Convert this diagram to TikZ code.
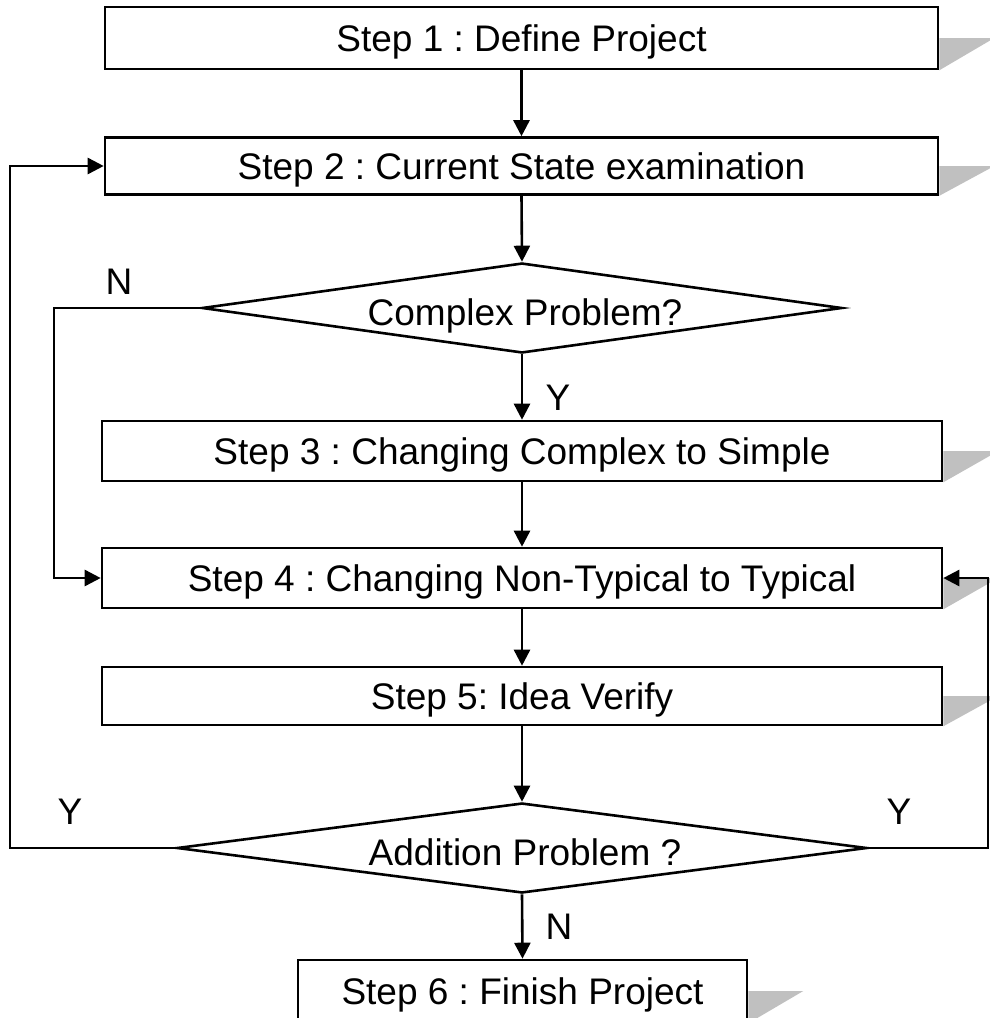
\documentclass[tikz,border=0pt]{standalone}
\usepackage{fontspec}
\setmainfont{Liberation Sans}
\usetikzlibrary{arrows.meta,shapes.geometric}
\definecolor{shadowgray}{HTML}{C0C0C0}
\frenchspacing
\tikzset{
  every node/.style={font=\fontsize{37}{44}\selectfont},
  stepbox/.style={draw, line width=2.6pt, fill=white, rectangle, inner sep=0pt, minimum width=840pt, minimum height=60pt, text depth=0pt},
  decision/.style={draw, line width=2.6pt, fill=white, diamond, inner sep=0pt, shape aspect=7},
  conn/.style={line width=2.6pt},
  arr/.style={conn, -{Triangle[length=16pt,width=16pt]}},
  lbl/.style={inner sep=0pt}
}
\begin{document}
\begin{tikzpicture}[x=1pt,y=-1pt]
\useasboundingbox (0,0) rectangle (990,1018);
% boxes
\node[stepbox, minimum width=833pt, minimum height=62pt] (b1) at (521.5,38) {Step 1 : Define Project};
\node[stepbox, minimum width=833pt, minimum height=57pt] (b2) at (521.5,166) {Step 2 : Current State examination};
\node[decision, minimum width=640pt, minimum height=90pt] (d1) at (522,308) {};
\node[lbl, text depth=0pt] (t1) at (525,312) {Complex Problem?};
\node[stepbox] (b3) at (522,451) {Step 3 : Changing Complex to Simple};
\node[stepbox] (b4) at (522,578) {Step 4 : Changing Non-Typical to Typical};
\node[stepbox, minimum height=58pt] (b5) at (522,696) {Step 5: Idea Verify};
\node[decision, minimum width=690pt, minimum height=90pt] (d2) at (522,848) {};
\node[lbl, text depth=0pt] (t2) at (525,852) {Addition Problem ?};
\node[stepbox, minimum width=449pt, minimum height=62pt] (b6) at (522.5,991) {Step 6 : Finish Project};
% shadows
\foreach \b in {b1,b2,b3,b4,b5,b6}{
  \fill[shadowgray] (\b.east) -- ++(55,0) -- (\b.south east) -- cycle;
}
% coordinates for loops
\coordinate (lx) at (10,0);
\coordinate (nx) at (54,0);
\coordinate (rx) at (988,0);
% connectors
\draw[arr] (b1.south) -- (b2.north);
\draw[arr] (b2.south) -- (d1.north);
\draw[arr] (d1.south) -- (b3.north);
\draw[arr] (b3.south) -- (b4.north);
\draw[arr] (b4.south) -- (b5.north);
\draw[arr] (b5.south) -- (d2.north);
\draw[arr] (d2.south) -- (b6.north);
\draw[arr] (d1.west) -- (d1.west -| nx) |- (b4.west);
\draw[arr] (d2.west) -- (d2.west -| lx) |- (b2.west);
\draw[arr] (d2.east) -- (d2.east -| rx) |- (b4.east);
% labels
\node[lbl] (lN1) at (119,282) {N};
\node[lbl] (lY1) at (558,398) {Y};
\node[lbl] (lY2) at (70,812) {Y};
\node[lbl] (lY3) at (899,812) {Y};
\node[lbl] (lN2) at (559,927) {N};
\end{tikzpicture}
\end{document}
